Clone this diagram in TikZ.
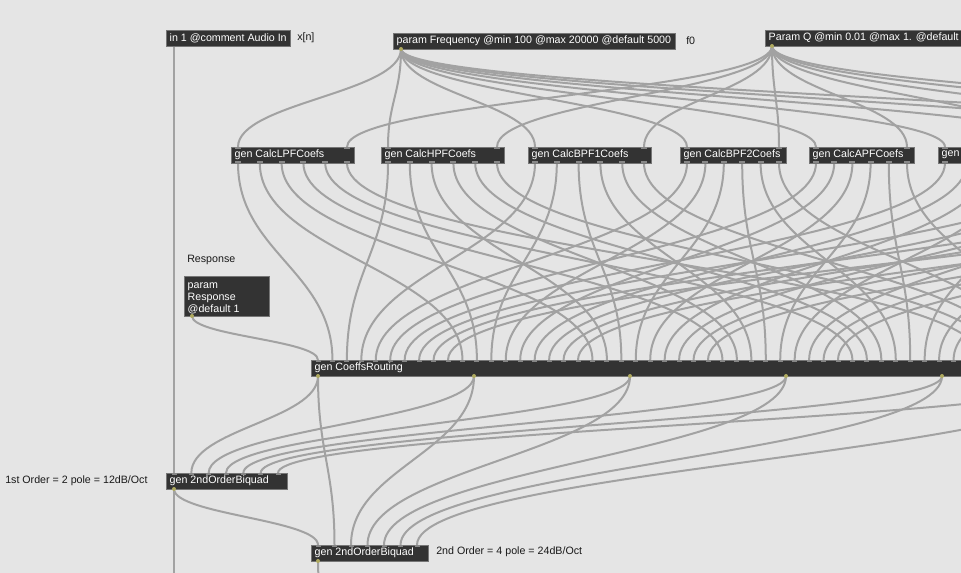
\documentclass[tikz,border=0pt]{standalone}
\usepackage{fontspec}
\setmainfont{Liberation Sans}
\usetikzlibrary{calc}
\definecolor{bgc}{RGB}{229,229,229}
\definecolor{objfill}{RGB}{51,51,51}
\definecolor{objedge}{RGB}{118,118,118}
\definecolor{cordc}{RGB}{162,162,162}
\definecolor{portc}{RGB}{135,135,135}
\definecolor{dotc}{RGB}{175,170,95}
\definecolor{cmtc}{RGB}{25,25,25}
\pgfdeclarelayer{back}
\pgfdeclarelayer{cords}
\pgfsetlayers{back,cords,main}
\newdimen\mcA
\newdimen\mcB
\newcommand\mcord[2]{%
  \pgfextracty{\mcA}{\pgfpointanchor{#1}{center}}%
  \pgfextracty{\mcB}{\pgfpointanchor{#2}{center}}%
  \pgfmathsetlengthmacro\mcC{max(5pt,0.45*abs(\mcA-\mcB))}%
  \draw[cord] (#1) .. controls +(0pt,-\mcC) and +(0pt,\mcC) .. (#2);}
\begin{document}
\begin{tikzpicture}[x=0.75pt,y=-0.75pt,
  obj/.style={draw=objedge, line width=0.7pt, fill=objfill, anchor=north west, outer sep=0pt,
    minimum width=#1*0.75pt, minimum height=12pt, inner sep=0pt},
  lbl/.style={text=white, font=\fontsize{8}{9}\selectfont, anchor=west, inner sep=0pt, xshift=2.6pt},
  cmt/.style={text=cmtc, font=\fontsize{8}{9}\selectfont, anchor=west, inner sep=0pt},
  cord/.style={draw=cordc, line width=1.5pt},
  port/.style={fill=portc},
  odot/.style={fill=dotc},
]
\useasboundingbox (0,0) rectangle (961,573);
\begin{pgfonlayer}{back}
\fill[bgc] (0,0) rectangle (961,573);
\end{pgfonlayer}

% ---------- objects ----------
\node[obj=124, label={[lbl]west:in 1 @comment Audio In}] (in1) at (166,30) {};
\coordinate (in1-o) at ($(in1.south west)+(8,0)$);
\node[cmt] (cx) at (297,38) {x[n]};

\node[obj=282, label={[lbl]west:param Frequency @min 100 @max 20000 @default 5000}] (freq) at (393,33) {};
\coordinate (freq-o) at ($(freq.south west)+(8,0)$);
\node[cmt] (cf0) at (686,41) {f0};

\node[obj=240, label={[lbl]west:Param Q @min 0.01 @max 1. @default}] (qp) at (765,30) {};
\coordinate (qp-o) at ($(qp.south west)+(7,0)$);

\foreach \k/\xl/\w/\nm in {0/231/123/gen CalcLPFCoefs, 1/381/123/gen CalcHPFCoefs,
   2/528/123/gen CalcBPF1Coefs, 3/680/106/gen CalcBPF2Coefs, 4/809/105/gen CalcAPFCoefs,
   5/938/123/gen, 6/1075/123/{}, 7/1215/123/{}, 8/1355/123/{}}{
  \node[obj=\w, label={[lbl]west:\nm}] (c\k) at (\xl,147) {};
  \coordinate (c\k-fin) at ($(c\k.north west)+(7,0)$);
  \coordinate (c\k-qin) at ($(c\k.north east)+(-7,0)$);
  \fill[port] ($(c\k-fin)+(-3,0)$) rectangle +(6,1.6);
  \fill[port] ($(c\k-qin)+(-3,0)$) rectangle +(6,1.6);
  \foreach \j in {0,...,5}{
    \coordinate (c\k-o\j) at ($(c\k.south west)+({7+\j*(\w-14)/5},0)$);
    \fill[port] ($(c\k-o\j)+(-3,-1.6)$) rectangle +(6,1.6);
  }
}

\node[cmt] (cresp) at (187,260) {Response};
\node[obj=85, minimum height=30pt,
  label={[lbl, align=left, yshift=-1.5pt, font=\fontsize{8}{9}\selectfont]west:{param\\Response\\@default 1}}] (resp) at (184,276) {};
\coordinate (resp-o) at ($(resp.south west)+(8,0)$);

\node[obj=794, label={[lbl]west:gen CoeffsRouting}] (cr) at (311,360) {};
\foreach \i in {0,...,54}{
  \coordinate (cr-i\i) at ($(cr.north west)+({7+\i*(780/54)},0)$);
  \fill[port] ($(cr-i\i)+(-2.5,0)$) rectangle +(5,1.6);
}
\foreach \j in {0,...,5}{
  \coordinate (cr-o\j) at ($(cr.south west)+({7+\j*156},0)$);
  \fill[odot] (cr-o\j) circle (2);
}

\node[obj=121, label={[lbl]west:gen 2ndOrderBiquad}] (bq1) at (166,473) {};
\node[cmt] (c1st) at (5,481) {1st Order = 2 pole = 12dB/Oct};
\foreach \i in {0,...,6}{
  \coordinate (bq1-i\i) at ($(bq1.north west)+({8+\i*(104/6)},0)$);
  \fill[port] ($(bq1-i\i)+(-2.5,0)$) rectangle +(5,1.6);
}
\coordinate (bq1-o) at ($(bq1.south west)+(8,0)$);
\fill[odot] (bq1-o) circle (2);

\node[obj=117, label={[lbl]west:gen 2ndOrderBiquad}] (bq2) at (311,545) {};
\node[cmt] (c2nd) at (436,552) {2nd Order = 4 pole = 24dB/Oct};
\foreach \i in {0,...,6}{
  \coordinate (bq2-i\i) at ($(bq2.north west)+({7+\i*(99/6)},0)$);
  \fill[port] ($(bq2-i\i)+(-2.5,0)$) rectangle +(5,1.6);
}
\coordinate (bq2-o) at ($(bq2.south west)+(7,0)$);
\fill[odot] (bq2-o) circle (2);
\fill[odot] (resp-o) circle (2);
\fill[odot] (freq-o) circle (2);
\fill[odot] (qp-o) circle (2);

\coordinate (bot1) at (174,620);
\coordinate (bot2) at (322,620);

% ---------- cords ----------
\begin{pgfonlayer}{cords}
\draw[cord] (in1-o) -- (bq1-i0);
\foreach \k in {0,...,8}{
  \mcord{freq-o}{c\k-fin}
  \mcord{qp-o}{c\k-qin}
}
\foreach \k in {0,...,8}{
  \foreach \j in {0,...,5}{
    \pgfmathtruncatemacro\idx{1+\j*9+\k}
    \mcord{c\k-o\j}{cr-i\idx}
  }
}
\mcord{resp-o}{cr-i0}
\foreach \j in {0,...,5}{
  \pgfmathtruncatemacro\ii{\j+1}
  \mcord{cr-o\j}{bq1-i\ii}
  \mcord{cr-o\j}{bq2-i\ii}
}
\mcord{bq1-o}{bq2-i0}
\draw[cord] (bq1-o) -- (bot1);
\mcord{bq2-o}{bot2}
\end{pgfonlayer}
\end{tikzpicture}
\end{document}
